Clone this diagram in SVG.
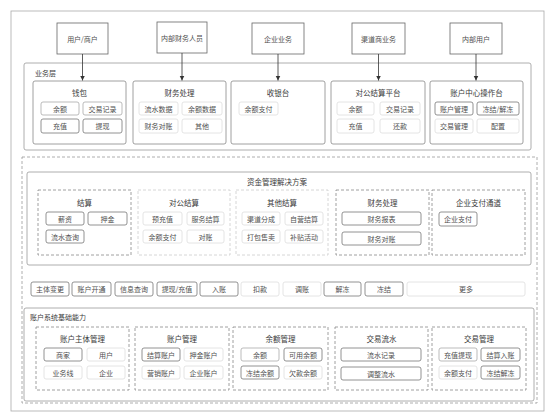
<svg xmlns="http://www.w3.org/2000/svg" width="553" height="413" viewBox="0 0 553 413">
<defs>
<marker id="ah" markerWidth="6" markerHeight="6" refX="5" refY="3" orient="auto" markerUnits="userSpaceOnUse">
<path d="M0,0.5 L5,3 L0,5.5 Z" fill="#333"/>
</marker>
<style>
text{font-family:"Noto Sans CJK SC","Noto Sans",sans-serif;fill:#505050;text-anchor:middle;dominant-baseline:central}
.t{font-size:7px}
.h{font-size:7.5px;fill:#3a3a3a}
.lab{font-size:7px;text-anchor:start;fill:#3a3a3a}
.top{fill:#fff;stroke:#666;stroke-width:0.8}
.frame{fill:#fff;stroke:#999;stroke-width:0.8}
.grp{fill:#fff;stroke:#888;stroke-width:0.8}
.dg{fill:none;stroke:#888;stroke-width:0.8;stroke-dasharray:3 2}
.lg{fill:none;stroke:#ccc;stroke-width:0.8;stroke-dasharray:3 2}
.b{fill:#fff;stroke:#777;stroke-width:0.8}
.m{fill:#fff;stroke:#aaa;stroke-width:0.8}
.l{fill:#fff;stroke:#ddd;stroke-width:0.8}
.con{stroke:#333;stroke-width:0.8;fill:none}
</style>
</defs>
<rect x="0" y="0" width="553" height="413" fill="#fff"/>
<rect x="11" y="11" width="533" height="400" fill="#fff" stroke="#aaa" stroke-width="0.8"/>

<!-- top actors -->
<g id="n-user"><rect class="top" x="57" y="23" width="51" height="31"/><text class="t" x="82.5" y="38.5">用户/商户</text></g>
<g id="n-finance-staff"><rect class="top" x="157" y="22" width="50" height="31"/><text class="t" x="182" y="37.5">内部财务人员</text></g>
<g id="n-enterprise"><rect class="top" x="252" y="23" width="52" height="31"/><text class="t" x="278" y="38.5">企业业务</text></g>
<g id="n-channel"><rect class="top" x="352" y="23" width="53" height="31"/><text class="t" x="378.5" y="38.5">渠道商业务</text></g>
<g id="n-internal"><rect class="top" x="450" y="23" width="52" height="31"/><text class="t" x="476" y="38.5">内部用户</text></g>

<!-- business layer -->
<g id="n-biz-layer">
<rect class="frame" x="24" y="63" width="507" height="87" rx="2"/>
<text class="lab" x="35" y="73">业务层</text>
</g>
<g id="n-wallet">
<rect class="grp" x="33" y="81" width="93" height="63" rx="2"/>
<text class="h" x="79.5" y="92">钱包</text>
<rect class="m" x="41" y="102" width="38" height="13" rx="2"/><text class="t" x="60" y="108.5">余额</text>
<rect class="m" x="83" y="102" width="39" height="13" rx="2"/><text class="t" x="102.5" y="108.5">交易记录</text>
<rect class="b" x="41" y="119" width="38" height="14" rx="2"/><text class="t" x="60" y="126">充值</text>
<rect class="b" x="83" y="119" width="39" height="14" rx="2"/><text class="t" x="102.5" y="126">提现</text>
</g>
<g id="n-fin-proc">
<rect class="grp" x="133" y="81" width="93" height="63" rx="2"/>
<text class="h" x="179.5" y="92">财务处理</text>
<rect class="l" x="139" y="102" width="39" height="13" rx="2"/><text class="t" x="158.5" y="108.5">流水数据</text>
<rect class="l" x="182" y="102" width="40" height="13" rx="2"/><text class="t" x="202" y="108.5">余额数据</text>
<rect class="l" x="139" y="119" width="39" height="14" rx="2"/><text class="t" x="158.5" y="126">财务对账</text>
<rect class="l" x="182" y="119" width="40" height="14" rx="2"/><text class="t" x="202" y="126">其他</text>
</g>
<g id="n-cashier">
<rect class="grp" x="231" y="81" width="94" height="63" rx="2"/>
<text class="h" x="278" y="92">收银台</text>
<rect class="l" x="239" y="102" width="39" height="13" rx="2"/><text class="t" x="258.5" y="108.5">余额支付</text>
</g>
<g id="n-corp-platform">
<rect class="grp" x="331" y="81" width="94" height="63" rx="2"/>
<text class="h" x="378" y="92">对公结算平台</text>
<rect class="l" x="337" y="102" width="37" height="13" rx="2"/><text class="t" x="355.5" y="108.5">余额</text>
<rect class="l" x="380" y="102" width="40" height="13" rx="2"/><text class="t" x="400" y="108.5">交易记录</text>
<rect class="l" x="337" y="119" width="37" height="14" rx="2"/><text class="t" x="355.5" y="126">充值</text>
<rect class="l" x="380" y="119" width="40" height="14" rx="2"/><text class="t" x="400" y="126">还款</text>
</g>
<g id="n-acct-console">
<rect class="grp" x="430" y="81" width="93" height="63" rx="2"/>
<text class="h" x="476.5" y="92">账户中心操作台</text>
<rect class="b" x="435" y="102" width="38" height="13" rx="2"/><text class="t" x="454" y="108.5">账户管理</text>
<rect class="b" x="477" y="102" width="42" height="13" rx="2"/><text class="t" x="498" y="108.5">冻结/解冻</text>
<rect class="l" x="435" y="119" width="38" height="14" rx="2"/><text class="t" x="454" y="126">交易管理</text>
<rect class="l" x="477" y="119" width="42" height="14" rx="2"/><text class="t" x="498" y="126">配置</text>
</g>

<!-- platform dashed frame -->
<g id="n-platform">
<rect x="22" y="157" width="515" height="246" fill="none" stroke="#999" stroke-width="0.8" stroke-dasharray="3 2"/>
</g>

<!-- fund management solution -->
<g id="n-fund-solution">
<rect class="frame" x="27" y="172" width="504" height="93" rx="2"/>
<text class="h" x="277" y="181">资金管理解决方案</text>
</g>
<g id="n-settle">
<rect class="dg" x="38" y="190" width="93" height="65"/>
<text class="h" x="84.5" y="202">结算</text>
<rect class="b" x="46" y="212" width="38" height="13" rx="2"/><text class="t" x="65" y="218.5">薪资</text>
<rect class="b" x="88" y="212" width="39" height="13" rx="2"/><text class="t" x="107.5" y="218.5">押金</text>
<rect class="b" x="46" y="230" width="38" height="13" rx="2"/><text class="t" x="65" y="236.5">流水查询</text>
</g>
<g id="n-corp-settle">
<rect class="lg" x="138" y="190" width="92" height="65"/>
<text class="h" x="184" y="202">对公结算</text>
<rect class="l" x="143" y="212" width="39" height="13" rx="2"/><text class="t" x="162.5" y="218.5">预充值</text>
<rect class="l" x="187" y="212" width="37" height="13" rx="2"/><text class="t" x="205.5" y="218.5">服务结算</text>
<rect class="l" x="143" y="230" width="39" height="13" rx="2"/><text class="t" x="162.5" y="236.5">余额支付</text>
<rect class="l" x="187" y="230" width="37" height="13" rx="2"/><text class="t" x="205.5" y="236.5">对账</text>
</g>
<g id="n-other-settle">
<rect class="lg" x="236" y="190" width="92" height="65"/>
<text class="h" x="282" y="202">其他结算</text>
<rect class="l" x="242" y="212" width="38" height="13" rx="2"/><text class="t" x="261" y="218.5">渠道分成</text>
<rect class="l" x="285" y="212" width="38" height="13" rx="2"/><text class="t" x="304" y="218.5">自营结算</text>
<rect class="l" x="242" y="230" width="38" height="13" rx="2"/><text class="t" x="261" y="236.5">打包售卖</text>
<rect class="l" x="285" y="230" width="38" height="13" rx="2"/><text class="t" x="304" y="236.5">补贴活动</text>
</g>
<g id="n-fin-proc2">
<rect class="dg" x="336" y="190" width="93" height="65"/>
<text class="h" x="382.5" y="202">财务处理</text>
<rect class="b" x="342" y="212" width="79" height="13" rx="2"/><text class="t" x="381.5" y="218.5">财务报表</text>
<rect class="b" x="342" y="232" width="79" height="13" rx="2"/><text class="t" x="381.5" y="238.5">财务对账</text>
</g>
<g id="n-ent-pay">
<rect class="dg" x="432" y="190" width="93" height="65"/>
<text class="h" x="478.5" y="202">企业支付通道</text>
<rect class="b" x="439" y="212" width="38" height="14" rx="2"/><text class="t" x="458" y="219">企业支付</text>
</g>

<!-- action row -->
<g id="n-actions">
<rect class="b" x="31" y="282" width="38" height="14" rx="2"/><text class="t" x="50" y="289">主体变更</text>
<rect class="b" x="72" y="282" width="39" height="14" rx="2"/><text class="t" x="91.5" y="289">账户开通</text>
<rect class="b" x="115" y="282" width="38" height="14" rx="2"/><text class="t" x="134" y="289">信息查询</text>
<rect class="b" x="157" y="282" width="40" height="14" rx="2"/><text class="t" x="177" y="289">提现/充值</text>
<rect class="b" x="200" y="282" width="38" height="14" rx="2"/><text class="t" x="219" y="289">入账</text>
<rect class="l" x="241" y="282" width="38" height="14" rx="2"/><text class="t" x="260" y="289">扣款</text>
<rect class="l" x="283" y="282" width="38" height="14" rx="2"/><text class="t" x="302" y="289">调账</text>
<rect class="b" x="324" y="282" width="37" height="14" rx="2"/><text class="t" x="342.5" y="289">解冻</text>
<rect class="b" x="365" y="282" width="38" height="14" rx="2"/><text class="t" x="384" y="289">冻结</text>
<rect class="l" x="407" y="282" width="118" height="14" rx="2"/><text class="t" x="466" y="289">更多</text>
</g>

<!-- account system base -->
<g id="n-acct-base">
<rect class="frame" x="24" y="308" width="510" height="93" rx="2"/>
<text class="lab" x="30" y="317">账户系统基础能力</text>
</g>
<g id="n-subject">
<rect class="dg" x="36" y="327" width="93" height="63"/>
<text class="h" x="82.5" y="338">账户主体管理</text>
<rect class="b" x="44" y="348" width="38" height="13" rx="2"/><text class="t" x="63" y="354.5">商家</text>
<rect class="l" x="87" y="348" width="38" height="13" rx="2"/><text class="t" x="106" y="354.5">用户</text>
<rect class="l" x="44" y="366" width="38" height="13" rx="2"/><text class="t" x="63" y="372.5">业务线</text>
<rect class="l" x="87" y="366" width="38" height="13" rx="2"/><text class="t" x="106" y="372.5">企业</text>
</g>
<g id="n-acct-mgmt">
<rect class="dg" x="135" y="327" width="94" height="63"/>
<text class="h" x="182" y="338">账户管理</text>
<rect class="b" x="142" y="348" width="38" height="13" rx="2"/><text class="t" x="161" y="354.5">结算账户</text>
<rect class="l" x="184" y="348" width="39" height="13" rx="2"/><text class="t" x="203.5" y="354.5">押金账户</text>
<rect class="l" x="142" y="366" width="38" height="13" rx="2"/><text class="t" x="161" y="372.5">营销账户</text>
<rect class="l" x="184" y="366" width="39" height="13" rx="2"/><text class="t" x="203.5" y="372.5">企业账户</text>
</g>
<g id="n-bal-mgmt">
<rect class="dg" x="233" y="327" width="95" height="63"/>
<text class="h" x="280.5" y="338">余额管理</text>
<rect class="m" x="241" y="348" width="38" height="13" rx="2"/><text class="t" x="260" y="354.5">余额</text>
<rect class="b" x="284" y="348" width="38" height="13" rx="2"/><text class="t" x="303" y="354.5">可用余额</text>
<rect class="b" x="241" y="366" width="38" height="13" rx="2"/><text class="t" x="260" y="372.5">冻结余额</text>
<rect class="l" x="284" y="366" width="38" height="13" rx="2"/><text class="t" x="303" y="372.5">欠款余额</text>
</g>
<g id="n-flow">
<rect class="dg" x="335" y="327" width="93" height="63"/>
<text class="h" x="381.5" y="338">交易流水</text>
<rect class="b" x="341" y="348" width="80" height="13" rx="2"/><text class="t" x="381" y="354.5">流水记录</text>
<rect class="b" x="341" y="367" width="80" height="13" rx="2"/><text class="t" x="381" y="373.5">调整流水</text>
</g>
<g id="n-trade-mgmt">
<rect class="dg" x="432" y="327" width="94" height="63"/>
<text class="h" x="479" y="338">交易管理</text>
<rect class="m" x="439" y="348" width="38" height="13" rx="2"/><text class="t" x="458" y="354.5">充值提现</text>
<rect class="b" x="481" y="348" width="39" height="13" rx="2"/><text class="t" x="500.5" y="354.5">结算入账</text>
<rect class="l" x="439" y="366" width="38" height="13" rx="2"/><text class="t" x="458" y="372.5">余额支付</text>
<rect class="b" x="481" y="366" width="39" height="13" rx="2"/><text class="t" x="500.5" y="372.5">冻结解冻</text>
</g>

<!-- connectors -->
<g id="connectors">
<line class="con" x1="82.5" y1="54" x2="82.5" y2="80.5" marker-end="url(#ah)"/>
<line class="con" x1="182" y1="53" x2="182" y2="80.5" marker-end="url(#ah)"/>
<line class="con" x1="278" y1="54" x2="278" y2="80.5" marker-end="url(#ah)"/>
<line class="con" x1="378.5" y1="54" x2="378.5" y2="80.5" marker-end="url(#ah)"/>
<line class="con" x1="476" y1="54" x2="476" y2="80.5" marker-end="url(#ah)"/>
</g>
</svg>
